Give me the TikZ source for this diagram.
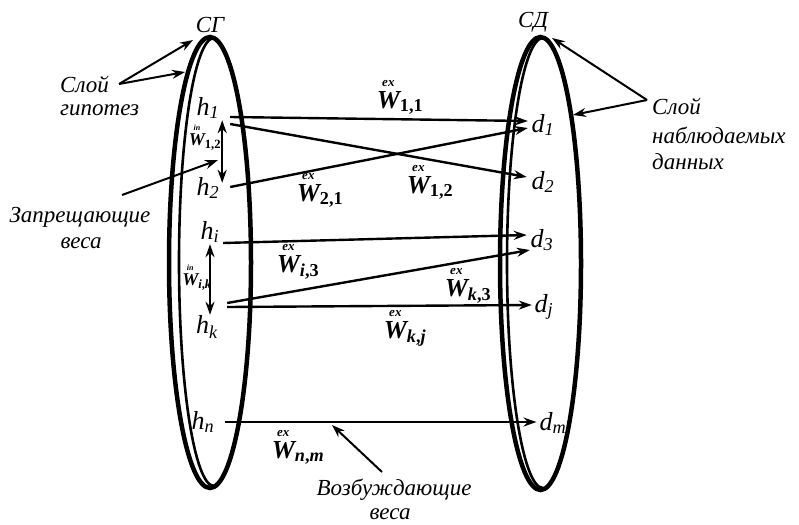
\documentclass[tikz,border=0pt]{standalone}
\usepackage{amsmath}
\usepackage{fontspec}
\setmainfont{Liberation Serif}
\usetikzlibrary{arrows.meta}

\newcommand{\wex}[1]{$\overset{\text{\fontsize{13}{13}\selectfont\bfseries\itshape ex}}{\text{\bfseries\itshape W}}_{\text{\bfseries #1}}$}
\newcommand{\win}[1]{$\overset{\text{\fontsize{8}{8}\selectfont\bfseries\itshape in}}{\text{\bfseries\itshape W}}_{\text{\bfseries #1}}$}

\tikzset{
  hlab/.style={font=\fontsize{26}{26}\selectfont\itshape, inner sep=0pt, minimum width=24pt, minimum height=24pt},
  dlab/.style={hlab},
  wlab/.style={font=\fontsize{26}{26}\selectfont, inner sep=0pt},
  wsmall/.style={font=\fontsize{18}{18}\selectfont, inner sep=0pt},
  note/.style={font=\fontsize{23}{25}\selectfont\itshape, inner sep=0pt},
  conn/.style={line width=2.4pt, ->},
  inh/.style={line width=2.4pt, <->},
  pointer/.style={line width=2pt, ->},
  ring/.style={line width=4.5pt},
  ringin/.style={line width=2.6pt},
}

\begin{document}
\begin{tikzpicture}[x=1pt, y=-1pt, >={Stealth[length=13pt,width=9pt]}]
  \useasboundingbox (0,0) rectangle (799,524);

  % layers
  \draw[ring] (210,262.5) ellipse [x radius=41pt, y radius=225.5pt];
  \draw[ringin] (214,38) arc [start angle=90, end angle=270, x radius=35pt, y radius=224pt];
  \draw[ring] (540.5,263.5) ellipse [x radius=40.5pt, y radius=226.5pt];
  \draw[ringin] (543,38) arc [start angle=90, end angle=270, x radius=36pt, y radius=225pt];

  \node[note] (sg) at (210,25) {СГ};
  \node[note] (sd) at (533,22) {СД};

  % hypotheses
  \node[hlab] (h1) at (208,108) {h\textsubscript{1}};
  \node[hlab] (h2) at (208,188) {h\textsubscript{2}};
  \node[hlab] (hi) at (210,232) {h\textsubscript{i}};
  \node[hlab] (hk) at (207,327) {h\textsubscript{k}};
  \node[hlab] (hn) at (203,422) {h\textsubscript{n}};

  % observed data
  \node[dlab] (d1) at (543,125) {d\textsubscript{1}};
  \node[dlab] (d2) at (543,182) {d\textsubscript{2}};
  \node[dlab] (d3) at (542,240) {d\textsubscript{3}};
  \node[dlab] (dj) at (544,307) {d\textsubscript{j}};
  \node[dlab] (dm) at (553,423) {d\textsubscript{m}};

  % excitatory weights
  \draw[conn] ([shift={(10pt,-9pt)}]h1.east) -- ([shift={(-3pt,4pt)}]d1.west);
  \draw[conn] ([shift={(10pt,-16pt)}]h1.east) -- ([shift={(-4pt,5pt)}]d2.west);
  \draw[conn] ([shift={(10pt,1pt)}]h2.east) -- ([shift={(-3pt,-3pt)}]d1.west);
  \draw[conn] ([shift={(1pt,-11pt)}]hi.east) -- ([shift={(-3pt,5pt)}]d3.west);
  \draw[conn] ([shift={(8pt,24pt)}]hk.east) -- ([shift={(0pt,-10pt)}]d3.west);
  \draw[conn] ([shift={(8pt,20pt)}]hk.east) -- ([shift={(0pt,2pt)}]dj.west);
  \draw[conn] ([shift={(10pt,0pt)}]hn.east) -- ([shift={(-3pt,1pt)}]dm.west);

  \node[wlab] (w11) at (400,96) {\wex{1,1}};
  \node[wlab] (w21) at (320,189) {\wex{2,1}};
  \node[wlab] (w12) at (430,181) {\wex{1,2}};
  \node[wlab] (wi3) at (298,261) {\wex{\textit{i},3}};
  \node[wlab] (wk3) at (468,285) {\wex{\textit{k},3}};
  \node[wlab] (wkj) at (405,327) {\wex{\textit{k},\textit{j}}};
  \node[wlab] (wnm) at (298,446) {\wex{\textit{n},\textit{m}}};

  % inhibitory weights
  \draw[inh] ([xshift=2pt]h1.south east) -- ([xshift=2pt,yshift=-7pt]h2.north east);
  \draw[inh] (hi.south) -- ([xshift=3pt]hk.north);
  \node[wsmall] (v12) at (205,137) {\win{1,2}};
  \node[wsmall] (vik) at (197,277) {\win{\textit{i},\textit{k}}};

  % captions
  \node[note, anchor=west] (hyp1) at (60,84) {Слой};
  \node[note, anchor=west] (hyp2) at (60,110) {гипотез};
  \coordinate (sgtip) at (193,40);
  \coordinate (sgside) at (185,72);
  \draw[pointer] ([xshift=10pt]hyp1.east) -- (sgtip);
  \draw[pointer] ([xshift=10pt]hyp1.east) -- (sgside);

  \node[note] (inh1) at (80,217) {Запрещающие};
  \node[note] (inh2) at (81,243) {веса};
  \coordinate (inhtip) at (218,160);
  \draw[pointer] ([shift={(42pt,22pt)}]inh1.center) -- (inhtip);

  \node[note] (exc1) at (394,490) {Возбуждающие};
  \node[note] (exc2) at (390,514) {веса};
  \coordinate (exctip) at (332,425);
  \draw[pointer] ([shift={(-12pt,18pt)}]exc1.center) -- (exctip);

  \node[note, anchor=west] (obs1) at (652,106) {Слой};
  \node[note, anchor=west] (obs2) at (652,135) {наблюдаемых};
  \node[note, anchor=west] (obs3) at (652,162) {данных};
  \coordinate (sdtip) at (552,38);
  \coordinate (sdside) at (573,115);
  \draw[pointer] ([shift={(-5pt,6pt)}]obs1.west) -- (sdtip);
  \draw[pointer] ([shift={(-5pt,6pt)}]obs1.west) -- (sdside);
\end{tikzpicture}
\end{document}
